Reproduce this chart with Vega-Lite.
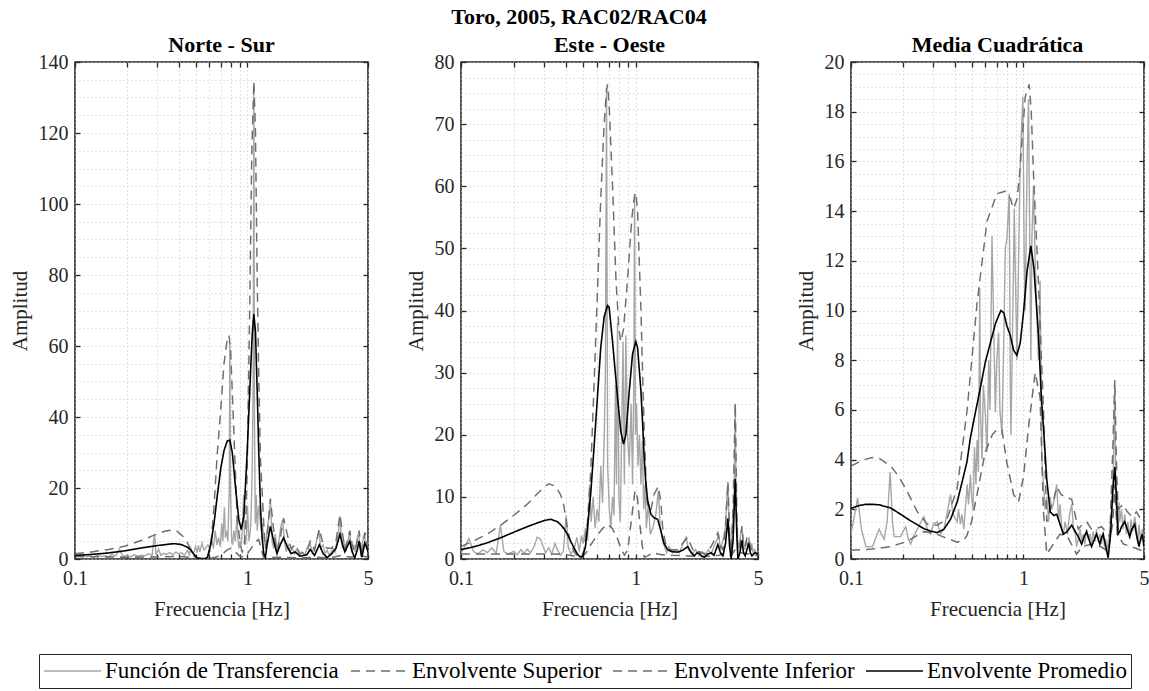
{
  "$schema": "https://vega.github.io/schema/vega-lite/v6.json",
  "padding": {"left": 8, "top": 6, "right": 6, "bottom": 3},
  "title": {"text": "Toro, 2005, RAC02/RAC04", "fontSize": 22, "fontWeight": "bold", "font": "Liberation Serif", "anchor": "middle", "offset": 4, "color": "#000000"},
  "spacing": 93,
  "bounds": "flush",
  "datasets": {
    "series": [
      {"s":"T","name":"Función de Transferencia"},{"s":"S","name":"Envolvente Superior"},{"s":"I","name":"Envolvente Inferior"},{"s":"P","name":"Envolvente Promedio"}
    ],
    "ns": [
      {"s":"T","f":0.1,"a":1.2},{"s":"T","f":0.105,"a":0.8},{"s":"T","f":0.11,"a":1.0},{"s":"T","f":0.116,"a":0.6},{"s":"T","f":0.122,"a":0.9},{"s":"T","f":0.128,"a":0.5},{"s":"T","f":0.135,"a":1.1},{"s":"T","f":0.142,"a":0.7},{"s":"T","f":0.149,"a":0.9},{"s":"T","f":0.156,"a":0.6},{"s":"T","f":0.164,"a":1.3},{"s":"T","f":0.172,"a":0.8},{"s":"T","f":0.181,"a":2.8},{"s":"T","f":0.19,"a":0.7},{"s":"T","f":0.2,"a":1.0},{"s":"T","f":0.21,"a":0.6},{"s":"T","f":0.22,"a":1.2},{"s":"T","f":0.231,"a":0.8},{"s":"T","f":0.242,"a":1.1},{"s":"T","f":0.254,"a":0.9},{"s":"T","f":0.267,"a":1.5},{"s":"T","f":0.28,"a":1.0},{"s":"T","f":0.289,"a":7.0},{"s":"T","f":0.295,"a":1.2},{"s":"T","f":0.305,"a":2.8},{"s":"T","f":0.315,"a":1.0},{"s":"T","f":0.325,"a":1.6},{"s":"T","f":0.34,"a":1.3},{"s":"T","f":0.355,"a":1.8},{"s":"T","f":0.37,"a":1.2},{"s":"T","f":0.385,"a":2.0},{"s":"T","f":0.4,"a":1.4},{"s":"T","f":0.415,"a":1.8},{"s":"T","f":0.43,"a":1.0},{"s":"T","f":0.45,"a":2.5},{"s":"T","f":0.46,"a":1.2},{"s":"T","f":0.47,"a":3.0},{"s":"T","f":0.48,"a":1.5},{"s":"T","f":0.49,"a":2.0},{"s":"T","f":0.5,"a":3.5},{"s":"T","f":0.51,"a":1.8},{"s":"T","f":0.52,"a":3.8},{"s":"T","f":0.53,"a":2.0},{"s":"T","f":0.545,"a":4.5},{"s":"T","f":0.56,"a":2.5},{"s":"T","f":0.575,"a":3.2},{"s":"T","f":0.59,"a":4.0},{"s":"T","f":0.605,"a":3.0},{"s":"T","f":0.62,"a":5.5},{"s":"T","f":0.635,"a":3.0},{"s":"T","f":0.65,"a":8.0},{"s":"T","f":0.665,"a":4.0},{"s":"T","f":0.68,"a":6.0},{"s":"T","f":0.695,"a":3.5},{"s":"T","f":0.71,"a":10},{"s":"T","f":0.72,"a":5},{"s":"T","f":0.735,"a":14.5},{"s":"T","f":0.745,"a":6},{"s":"T","f":0.755,"a":8},{"s":"T","f":0.77,"a":5},{"s":"T","f":0.785,"a":20},{"s":"T","f":0.79,"a":61},{"s":"T","f":0.797,"a":20},{"s":"T","f":0.81,"a":5},{"s":"T","f":0.82,"a":4},{"s":"T","f":0.835,"a":8},{"s":"T","f":0.85,"a":5},{"s":"T","f":0.87,"a":12},{"s":"T","f":0.88,"a":6},{"s":"T","f":0.892,"a":3},{"s":"T","f":0.905,"a":5},{"s":"T","f":0.92,"a":4},{"s":"T","f":0.935,"a":9},{"s":"T","f":0.95,"a":18},{"s":"T","f":0.96,"a":6},{"s":"T","f":0.975,"a":4},{"s":"T","f":0.99,"a":8},{"s":"T","f":1.0,"a":15},{"s":"T","f":1.02,"a":5},{"s":"T","f":1.04,"a":8},{"s":"T","f":1.05,"a":13},{"s":"T","f":1.065,"a":25},{"s":"T","f":1.08,"a":50},{"s":"T","f":1.089,"a":133},{"s":"T","f":1.098,"a":40},{"s":"T","f":1.11,"a":10},{"s":"T","f":1.125,"a":18},{"s":"T","f":1.14,"a":8},{"s":"T","f":1.16,"a":15},{"s":"T","f":1.18,"a":12},{"s":"T","f":1.2,"a":8},{"s":"T","f":1.22,"a":10},{"s":"T","f":1.25,"a":5},{"s":"T","f":1.28,"a":3},{"s":"T","f":1.3,"a":8},{"s":"T","f":1.33,"a":12},{"s":"T","f":1.36,"a":16},{"s":"T","f":1.39,"a":5},{"s":"T","f":1.42,"a":3},{"s":"T","f":1.45,"a":7},{"s":"T","f":1.48,"a":2},{"s":"T","f":1.52,"a":5},{"s":"T","f":1.56,"a":9},{"s":"T","f":1.6,"a":11},{"s":"T","f":1.64,"a":5},{"s":"T","f":1.68,"a":2},{"s":"T","f":1.72,"a":4},{"s":"T","f":1.77,"a":2},{"s":"T","f":1.82,"a":3},{"s":"T","f":1.88,"a":1.5},{"s":"T","f":1.94,"a":3},{"s":"T","f":2.0,"a":1.0},{"s":"T","f":2.07,"a":2},{"s":"T","f":2.14,"a":1},{"s":"T","f":2.22,"a":3},{"s":"T","f":2.3,"a":4.5},{"s":"T","f":2.38,"a":2},{"s":"T","f":2.46,"a":3},{"s":"T","f":2.54,"a":6},{"s":"T","f":2.6,"a":8},{"s":"T","f":2.66,"a":3},{"s":"T","f":2.74,"a":4},{"s":"T","f":2.82,"a":1.5},{"s":"T","f":2.9,"a":2.5},{"s":"T","f":2.98,"a":1},{"s":"T","f":3.06,"a":2},{"s":"T","f":3.14,"a":3},{"s":"T","f":3.22,"a":2},{"s":"T","f":3.3,"a":5},{"s":"T","f":3.38,"a":8},{"s":"T","f":3.44,"a":12},{"s":"T","f":3.5,"a":6},{"s":"T","f":3.56,"a":3},{"s":"T","f":3.62,"a":5},{"s":"T","f":3.7,"a":2},{"s":"T","f":3.78,"a":4},{"s":"T","f":3.86,"a":6},{"s":"T","f":3.92,"a":7.5},{"s":"T","f":3.98,"a":3},{"s":"T","f":4.06,"a":2},{"s":"T","f":4.14,"a":4},{"s":"T","f":4.22,"a":2},{"s":"T","f":4.3,"a":5},{"s":"T","f":4.38,"a":7},{"s":"T","f":4.44,"a":6},{"s":"T","f":4.5,"a":3},{"s":"T","f":4.56,"a":1},{"s":"T","f":4.62,"a":4},{"s":"T","f":4.7,"a":6},{"s":"T","f":4.78,"a":7},{"s":"T","f":4.86,"a":3},{"s":"T","f":4.93,"a":5},{"s":"T","f":5.0,"a":2},
      {"s":"S","f":0.1,"a":1.5},{"s":"S","f":0.125,"a":2},{"s":"S","f":0.156,"a":2.7},{"s":"S","f":0.194,"a":3.6},{"s":"S","f":0.242,"a":5.2},{"s":"S","f":0.29,"a":6.8},{"s":"S","f":0.33,"a":7.8},{"s":"S","f":0.36,"a":8.1},{"s":"S","f":0.39,"a":7.8},{"s":"S","f":0.42,"a":6.5},{"s":"S","f":0.45,"a":4.5},{"s":"S","f":0.47,"a":2.5},{"s":"S","f":0.49,"a":0.8},{"s":"S","f":0.513,"a":0},{"s":"S","f":0.537,"a":0},{"s":"S","f":0.561,"a":0},{"s":"S","f":0.586,"a":0.3},{"s":"S","f":0.612,"a":3},{"s":"S","f":0.64,"a":15},{"s":"S","f":0.669,"a":30},{"s":"S","f":0.7,"a":42},{"s":"S","f":0.731,"a":55},{"s":"S","f":0.764,"a":62},{"s":"S","f":0.782,"a":63},{"s":"S","f":0.8,"a":58},{"s":"S","f":0.835,"a":35},{"s":"S","f":0.873,"a":11},{"s":"S","f":0.91,"a":4},{"s":"S","f":0.932,"a":2},{"s":"S","f":0.953,"a":3},{"s":"S","f":0.974,"a":8},{"s":"S","f":0.996,"a":25},{"s":"S","f":1.03,"a":70},{"s":"S","f":1.06,"a":115},{"s":"S","f":1.089,"a":134.6},{"s":"S","f":1.113,"a":120},{"s":"S","f":1.138,"a":80},{"s":"S","f":1.163,"a":51},{"s":"S","f":1.19,"a":28},{"s":"S","f":1.243,"a":10},{"s":"S","f":1.27,"a":3},{"s":"S","f":1.3,"a":6},{"s":"S","f":1.358,"a":17},{"s":"S","f":1.42,"a":8},{"s":"S","f":1.483,"a":2},{"s":"S","f":1.55,"a":6},{"s":"S","f":1.62,"a":11.5},{"s":"S","f":1.7,"a":7},{"s":"S","f":1.79,"a":3},{"s":"S","f":1.89,"a":4},{"s":"S","f":2.02,"a":1.5},{"s":"S","f":2.21,"a":2},{"s":"S","f":2.31,"a":5},{"s":"S","f":2.45,"a":2.5},{"s":"S","f":2.61,"a":8.5},{"s":"S","f":2.75,"a":4},{"s":"S","f":2.9,"a":3},{"s":"S","f":3.08,"a":3},{"s":"S","f":3.26,"a":5},{"s":"S","f":3.44,"a":12.5},{"s":"S","f":3.56,"a":7},{"s":"S","f":3.67,"a":3},{"s":"S","f":3.79,"a":5},{"s":"S","f":3.92,"a":8},{"s":"S","f":4.05,"a":4},{"s":"S","f":4.19,"a":2},{"s":"S","f":4.33,"a":5},{"s":"S","f":4.44,"a":8},{"s":"S","f":4.53,"a":4},{"s":"S","f":4.6,"a":1},{"s":"S","f":4.7,"a":4},{"s":"S","f":4.79,"a":7.5},{"s":"S","f":4.9,"a":6},{"s":"S","f":5.0,"a":3},
      {"s":"I","f":0.1,"a":0.7},{"s":"I","f":0.15,"a":0.6},{"s":"I","f":0.2,"a":0.5},{"s":"I","f":0.3,"a":0.6},{"s":"I","f":0.4,"a":0.7},{"s":"I","f":0.5,"a":0.4},{"s":"I","f":0.55,"a":0.2},{"s":"I","f":0.6,"a":0.2},{"s":"I","f":0.65,"a":0.5},{"s":"I","f":0.7,"a":1},{"s":"I","f":0.76,"a":2.5},{"s":"I","f":0.8,"a":3},{"s":"I","f":0.85,"a":2},{"s":"I","f":0.9,"a":0.8},{"s":"I","f":0.95,"a":0.5},{"s":"I","f":1.0,"a":1.5},{"s":"I","f":1.05,"a":3},{"s":"I","f":1.1,"a":4.5},{"s":"I","f":1.16,"a":5.5},{"s":"I","f":1.2,"a":3},{"s":"I","f":1.24,"a":0.5},{"s":"I","f":1.3,"a":0.3},{"s":"I","f":1.5,"a":0.5},{"s":"I","f":2.0,"a":0.3},{"s":"I","f":2.5,"a":0.5},{"s":"I","f":3.0,"a":0.3},{"s":"I","f":3.5,"a":1},{"s":"I","f":4.0,"a":0.5},{"s":"I","f":4.5,"a":1},{"s":"I","f":5.0,"a":0.5},
      {"s":"P","f":0.1,"a":1.0},{"s":"P","f":0.125,"a":1.3},{"s":"P","f":0.156,"a":1.7},{"s":"P","f":0.194,"a":2.3},{"s":"P","f":0.242,"a":3.1},{"s":"P","f":0.302,"a":3.8},{"s":"P","f":0.36,"a":4.25},{"s":"P","f":0.38,"a":4.3},{"s":"P","f":0.411,"a":4.1},{"s":"P","f":0.45,"a":3.3},{"s":"P","f":0.47,"a":2.5},{"s":"P","f":0.49,"a":1.3},{"s":"P","f":0.513,"a":0.2},{"s":"P","f":0.537,"a":0},{"s":"P","f":0.561,"a":0},{"s":"P","f":0.586,"a":0.5},{"s":"P","f":0.612,"a":4},{"s":"P","f":0.64,"a":10},{"s":"P","f":0.669,"a":18},{"s":"P","f":0.7,"a":25.5},{"s":"P","f":0.731,"a":30.5},{"s":"P","f":0.764,"a":33.3},{"s":"P","f":0.79,"a":33.5},{"s":"P","f":0.817,"a":30},{"s":"P","f":0.853,"a":20},{"s":"P","f":0.892,"a":11},{"s":"P","f":0.92,"a":8.3},{"s":"P","f":0.953,"a":12},{"s":"P","f":0.996,"a":30},{"s":"P","f":1.041,"a":52},{"s":"P","f":1.065,"a":63},{"s":"P","f":1.089,"a":69},{"s":"P","f":1.113,"a":64},{"s":"P","f":1.138,"a":48},{"s":"P","f":1.163,"a":30},{"s":"P","f":1.189,"a":15},{"s":"P","f":1.216,"a":6},{"s":"P","f":1.243,"a":1.5},{"s":"P","f":1.271,"a":0.5},{"s":"P","f":1.3,"a":4},{"s":"P","f":1.358,"a":9.2},{"s":"P","f":1.42,"a":5},{"s":"P","f":1.483,"a":1.5},{"s":"P","f":1.55,"a":4},{"s":"P","f":1.62,"a":6},{"s":"P","f":1.7,"a":3.5},{"s":"P","f":1.79,"a":1.5},{"s":"P","f":1.89,"a":2},{"s":"P","f":2.02,"a":0.8},{"s":"P","f":2.21,"a":1.2},{"s":"P","f":2.31,"a":2.7},{"s":"P","f":2.45,"a":1},{"s":"P","f":2.61,"a":4},{"s":"P","f":2.75,"a":1.5},{"s":"P","f":2.9,"a":0.4},{"s":"P","f":3.08,"a":1.5},{"s":"P","f":3.26,"a":3},{"s":"P","f":3.44,"a":7},{"s":"P","f":3.56,"a":4},{"s":"P","f":3.67,"a":2},{"s":"P","f":3.79,"a":3.5},{"s":"P","f":3.92,"a":5},{"s":"P","f":4.05,"a":2},{"s":"P","f":4.19,"a":0.3},{"s":"P","f":4.33,"a":2.5},{"s":"P","f":4.44,"a":5},{"s":"P","f":4.53,"a":2.5},{"s":"P","f":4.6,"a":0.5},{"s":"P","f":4.7,"a":2.5},{"s":"P","f":4.79,"a":4.5},{"s":"P","f":4.9,"a":3.5},{"s":"P","f":5.0,"a":2}
    ],
    "eo": [
      {"s":"T","f":0.1,"a":1.0},{"s":"T","f":0.105,"a":2.0},{"s":"T","f":0.111,"a":3.3},{"s":"T","f":0.118,"a":1.2},{"s":"T","f":0.125,"a":0.8},{"s":"T","f":0.133,"a":1.5},{"s":"T","f":0.141,"a":1.0},{"s":"T","f":0.15,"a":1.8},{"s":"T","f":0.159,"a":0.9},{"s":"T","f":0.168,"a":5.4},{"s":"T","f":0.176,"a":1.2},{"s":"T","f":0.185,"a":0.8},{"s":"T","f":0.2,"a":1.2},{"s":"T","f":0.21,"a":0.7},{"s":"T","f":0.22,"a":1.5},{"s":"T","f":0.23,"a":0.9},{"s":"T","f":0.239,"a":1.6},{"s":"T","f":0.25,"a":1.0},{"s":"T","f":0.262,"a":2.0},{"s":"T","f":0.273,"a":3.5},{"s":"T","f":0.285,"a":3.2},{"s":"T","f":0.295,"a":2.0},{"s":"T","f":0.305,"a":1.0},{"s":"T","f":0.318,"a":1.8},{"s":"T","f":0.33,"a":0.8},{"s":"T","f":0.345,"a":2.5},{"s":"T","f":0.356,"a":1.5},{"s":"T","f":0.37,"a":0.6},{"s":"T","f":0.385,"a":1.2},{"s":"T","f":0.4,"a":7.0},{"s":"T","f":0.41,"a":2},{"s":"T","f":0.425,"a":0.8},{"s":"T","f":0.443,"a":1.5},{"s":"T","f":0.46,"a":3.5},{"s":"T","f":0.475,"a":1.2},{"s":"T","f":0.489,"a":3.8},{"s":"T","f":0.5,"a":2.5},{"s":"T","f":0.515,"a":5},{"s":"T","f":0.53,"a":3},{"s":"T","f":0.545,"a":12},{"s":"T","f":0.555,"a":6},{"s":"T","f":0.57,"a":10},{"s":"T","f":0.585,"a":5},{"s":"T","f":0.6,"a":8},{"s":"T","f":0.615,"a":6},{"s":"T","f":0.63,"a":15},{"s":"T","f":0.645,"a":9},{"s":"T","f":0.66,"a":20},{"s":"T","f":0.67,"a":30},{"s":"T","f":0.68,"a":75.8},{"s":"T","f":0.69,"a":15},{"s":"T","f":0.705,"a":8},{"s":"T","f":0.72,"a":5},{"s":"T","f":0.736,"a":10},{"s":"T","f":0.75,"a":7},{"s":"T","f":0.765,"a":28},{"s":"T","f":0.775,"a":12},{"s":"T","f":0.786,"a":38},{"s":"T","f":0.8,"a":10},{"s":"T","f":0.815,"a":6},{"s":"T","f":0.83,"a":20},{"s":"T","f":0.845,"a":35},{"s":"T","f":0.86,"a":12},{"s":"T","f":0.877,"a":36},{"s":"T","f":0.897,"a":20},{"s":"T","f":0.917,"a":15},{"s":"T","f":0.94,"a":25},{"s":"T","f":0.958,"a":12},{"s":"T","f":0.975,"a":30},{"s":"T","f":0.984,"a":58.7},{"s":"T","f":0.995,"a":20},{"s":"T","f":1.01,"a":25},{"s":"T","f":1.03,"a":15},{"s":"T","f":1.05,"a":20},{"s":"T","f":1.07,"a":12},{"s":"T","f":1.09,"a":19},{"s":"T","f":1.11,"a":8},{"s":"T","f":1.13,"a":12},{"s":"T","f":1.15,"a":5},{"s":"T","f":1.18,"a":9},{"s":"T","f":1.21,"a":4},{"s":"T","f":1.25,"a":5},{"s":"T","f":1.3,"a":7},{"s":"T","f":1.345,"a":11},{"s":"T","f":1.38,"a":5},{"s":"T","f":1.42,"a":3},{"s":"T","f":1.46,"a":2},{"s":"T","f":1.5,"a":1},{"s":"T","f":1.55,"a":2},{"s":"T","f":1.62,"a":1},{"s":"T","f":1.7,"a":1.5},{"s":"T","f":1.78,"a":1},{"s":"T","f":1.86,"a":2.5},{"s":"T","f":1.94,"a":3.5},{"s":"T","f":2.0,"a":1.5},{"s":"T","f":2.1,"a":0.8},{"s":"T","f":2.2,"a":1.5},{"s":"T","f":2.3,"a":0.5},{"s":"T","f":2.4,"a":1.2},{"s":"T","f":2.5,"a":0.6},{"s":"T","f":2.6,"a":1.5},{"s":"T","f":2.7,"a":0.8},{"s":"T","f":2.8,"a":2},{"s":"T","f":2.9,"a":3},{"s":"T","f":2.98,"a":4},{"s":"T","f":3.05,"a":1.5},{"s":"T","f":3.15,"a":3},{"s":"T","f":3.25,"a":5},{"s":"T","f":3.32,"a":10},{"s":"T","f":3.37,"a":12},{"s":"T","f":3.42,"a":4},{"s":"T","f":3.5,"a":2},{"s":"T","f":3.58,"a":6},{"s":"T","f":3.65,"a":10},{"s":"T","f":3.705,"a":25},{"s":"T","f":3.75,"a":8},{"s":"T","f":3.82,"a":3},{"s":"T","f":3.9,"a":2},{"s":"T","f":3.98,"a":4},{"s":"T","f":4.05,"a":5},{"s":"T","f":4.12,"a":3},{"s":"T","f":4.2,"a":1.5},{"s":"T","f":4.28,"a":3},{"s":"T","f":4.36,"a":2},{"s":"T","f":4.44,"a":3.5},{"s":"T","f":4.52,"a":1.5},{"s":"T","f":4.6,"a":2.5},{"s":"T","f":4.7,"a":1},{"s":"T","f":4.8,"a":1.5},{"s":"T","f":4.9,"a":0.8},{"s":"T","f":5.0,"a":1.2},
      {"s":"S","f":0.1,"a":2.0},{"s":"S","f":0.12,"a":3.0},{"s":"S","f":0.141,"a":4.0},{"s":"S","f":0.168,"a":5.4},{"s":"S","f":0.2,"a":7.0},{"s":"S","f":0.239,"a":8.8},{"s":"S","f":0.273,"a":10.5},{"s":"S","f":0.3,"a":11.6},{"s":"S","f":0.318,"a":12.1},{"s":"S","f":0.34,"a":11.8},{"s":"S","f":0.356,"a":11.2},{"s":"S","f":0.372,"a":10.3},{"s":"S","f":0.388,"a":8.5},{"s":"S","f":0.406,"a":5.0},{"s":"S","f":0.425,"a":2.5},{"s":"S","f":0.443,"a":1.2},{"s":"S","f":0.463,"a":0.5},{"s":"S","f":0.489,"a":0.3},{"s":"S","f":0.506,"a":1.5},{"s":"S","f":0.529,"a":6},{"s":"S","f":0.552,"a":14},{"s":"S","f":0.577,"a":28},{"s":"S","f":0.603,"a":43},{"s":"S","f":0.63,"a":58},{"s":"S","f":0.659,"a":70},{"s":"S","f":0.68,"a":75.5},{"s":"S","f":0.689,"a":76.4},{"s":"S","f":0.704,"a":73},{"s":"S","f":0.736,"a":60},{"s":"S","f":0.77,"a":45},{"s":"S","f":0.8,"a":37},{"s":"S","f":0.821,"a":35},{"s":"S","f":0.851,"a":37},{"s":"S","f":0.897,"a":45},{"s":"S","f":0.95,"a":55},{"s":"S","f":0.984,"a":58.5},{"s":"S","f":1.0,"a":59},{"s":"S","f":1.024,"a":56},{"s":"S","f":1.07,"a":40},{"s":"S","f":1.093,"a":30},{"s":"S","f":1.118,"a":20},{"s":"S","f":1.143,"a":13},{"s":"S","f":1.168,"a":8},{"s":"S","f":1.221,"a":8},{"s":"S","f":1.276,"a":10.5},{"s":"S","f":1.345,"a":11.7},{"s":"S","f":1.393,"a":9},{"s":"S","f":1.424,"a":5},{"s":"S","f":1.48,"a":2.5},{"s":"S","f":1.555,"a":1.5},{"s":"S","f":1.736,"a":1.5},{"s":"S","f":1.85,"a":2.5},{"s":"S","f":1.982,"a":3.5},{"s":"S","f":2.08,"a":2},{"s":"S","f":2.163,"a":1},{"s":"S","f":2.3,"a":1.2},{"s":"S","f":2.47,"a":0.8},{"s":"S","f":2.698,"a":2},{"s":"S","f":2.946,"a":4.2},{"s":"S","f":3.05,"a":2},{"s":"S","f":3.148,"a":1.5},{"s":"S","f":3.26,"a":5},{"s":"S","f":3.363,"a":12.5},{"s":"S","f":3.44,"a":4},{"s":"S","f":3.513,"a":1},{"s":"S","f":3.6,"a":8},{"s":"S","f":3.705,"a":25.1},{"s":"S","f":3.78,"a":8},{"s":"S","f":3.837,"a":1},{"s":"S","f":3.94,"a":2},{"s":"S","f":4.046,"a":5.3},{"s":"S","f":4.13,"a":2},{"s":"S","f":4.227,"a":2},{"s":"S","f":4.32,"a":3.5},{"s":"S","f":4.417,"a":3.5},{"s":"S","f":4.52,"a":2},{"s":"S","f":4.615,"a":1.5},{"s":"S","f":4.8,"a":1.5},{"s":"S","f":5.0,"a":1},
      {"s":"I","f":0.1,"a":0.8},{"s":"I","f":0.15,"a":0.8},{"s":"I","f":0.2,"a":0.8},{"s":"I","f":0.25,"a":0.8},{"s":"I","f":0.3,"a":0.8},{"s":"I","f":0.35,"a":0.8},{"s":"I","f":0.4,"a":0.7},{"s":"I","f":0.443,"a":0.5},{"s":"I","f":0.489,"a":0.3},{"s":"I","f":0.52,"a":1},{"s":"I","f":0.55,"a":2.2},{"s":"I","f":0.6,"a":3.8},{"s":"I","f":0.65,"a":5},{"s":"I","f":0.69,"a":5.6},{"s":"I","f":0.73,"a":5},{"s":"I","f":0.78,"a":3.5},{"s":"I","f":0.82,"a":1.8},{"s":"I","f":0.86,"a":0.6},{"s":"I","f":0.9,"a":1.5},{"s":"I","f":0.95,"a":7},{"s":"I","f":0.99,"a":11},{"s":"I","f":1.02,"a":10},{"s":"I","f":1.06,"a":5},{"s":"I","f":1.09,"a":2},{"s":"I","f":1.12,"a":0.3},{"s":"I","f":1.17,"a":0.5},{"s":"I","f":1.25,"a":1},{"s":"I","f":1.4,"a":0.7},{"s":"I","f":1.6,"a":0.6},{"s":"I","f":2.0,"a":0.5},{"s":"I","f":2.5,"a":0.4},{"s":"I","f":3.0,"a":0.6},{"s":"I","f":3.3,"a":1},{"s":"I","f":3.5,"a":0.5},{"s":"I","f":3.7,"a":1.5},{"s":"I","f":4.0,"a":1},{"s":"I","f":4.5,"a":0.8},{"s":"I","f":5.0,"a":0.5},
      {"s":"P","f":0.1,"a":1.5},{"s":"P","f":0.12,"a":2.0},{"s":"P","f":0.141,"a":2.6},{"s":"P","f":0.168,"a":3.4},{"s":"P","f":0.2,"a":4.3},{"s":"P","f":0.239,"a":5.2},{"s":"P","f":0.273,"a":5.8},{"s":"P","f":0.3,"a":6.2},{"s":"P","f":0.326,"a":6.4},{"s":"P","f":0.356,"a":6.0},{"s":"P","f":0.372,"a":5.5},{"s":"P","f":0.388,"a":4.9},{"s":"P","f":0.406,"a":4.0},{"s":"P","f":0.425,"a":2.8},{"s":"P","f":0.443,"a":1.8},{"s":"P","f":0.463,"a":0.8},{"s":"P","f":0.48,"a":0.35},{"s":"P","f":0.489,"a":0.3},{"s":"P","f":0.5,"a":0.6},{"s":"P","f":0.515,"a":2},{"s":"P","f":0.529,"a":5},{"s":"P","f":0.552,"a":10.5},{"s":"P","f":0.577,"a":18},{"s":"P","f":0.603,"a":26},{"s":"P","f":0.63,"a":34},{"s":"P","f":0.659,"a":39},{"s":"P","f":0.689,"a":40.8},{"s":"P","f":0.704,"a":40.5},{"s":"P","f":0.736,"a":35},{"s":"P","f":0.786,"a":26},{"s":"P","f":0.821,"a":20.5},{"s":"P","f":0.851,"a":18.5},{"s":"P","f":0.877,"a":20},{"s":"P","f":0.917,"a":27},{"s":"P","f":0.958,"a":33},{"s":"P","f":1.0,"a":35},{"s":"P","f":1.024,"a":34},{"s":"P","f":1.07,"a":27},{"s":"P","f":1.093,"a":22},{"s":"P","f":1.118,"a":16},{"s":"P","f":1.143,"a":12},{"s":"P","f":1.168,"a":9.5},{"s":"P","f":1.221,"a":7.2},{"s":"P","f":1.276,"a":6.6},{"s":"P","f":1.333,"a":6.4},{"s":"P","f":1.393,"a":4.5},{"s":"P","f":1.45,"a":2.5},{"s":"P","f":1.521,"a":1.5},{"s":"P","f":1.6,"a":1.2},{"s":"P","f":1.736,"a":1.1},{"s":"P","f":1.85,"a":1.4},{"s":"P","f":1.982,"a":2.0},{"s":"P","f":2.08,"a":1.0},{"s":"P","f":2.163,"a":0.5},{"s":"P","f":2.24,"a":1.0},{"s":"P","f":2.311,"a":0.9},{"s":"P","f":2.39,"a":0.4},{"s":"P","f":2.471,"a":0.3},{"s":"P","f":2.58,"a":0.8},{"s":"P","f":2.698,"a":1.0},{"s":"P","f":2.8,"a":0.6},{"s":"P","f":2.946,"a":2.3},{"s":"P","f":3.05,"a":1.0},{"s":"P","f":3.148,"a":0.5},{"s":"P","f":3.26,"a":2.5},{"s":"P","f":3.363,"a":6.5},{"s":"P","f":3.44,"a":2},{"s":"P","f":3.513,"a":0},{"s":"P","f":3.6,"a":3},{"s":"P","f":3.705,"a":12.9},{"s":"P","f":3.78,"a":4},{"s":"P","f":3.837,"a":0},{"s":"P","f":3.94,"a":1},{"s":"P","f":4.046,"a":3},{"s":"P","f":4.13,"a":1},{"s":"P","f":4.227,"a":0.5},{"s":"P","f":4.32,"a":1.5},{"s":"P","f":4.417,"a":2.5},{"s":"P","f":4.52,"a":1},{"s":"P","f":4.615,"a":0.5},{"s":"P","f":4.8,"a":1},{"s":"P","f":5.0,"a":0.8}
    ],
    "mc": [
      {"s":"T","f":0.1,"a":1.0},{"s":"T","f":0.105,"a":1.8},{"s":"T","f":0.1093,"a":2.45},{"s":"T","f":0.115,"a":1.2},{"s":"T","f":0.122,"a":0.5},{"s":"T","f":0.128,"a":0.5},{"s":"T","f":0.1334,"a":0.5},{"s":"T","f":0.14,"a":0.9},{"s":"T","f":0.1457,"a":1.2},{"s":"T","f":0.15,"a":1.0},{"s":"T","f":0.1557,"a":0.8},{"s":"T","f":0.162,"a":1.5},{"s":"T","f":0.1687,"a":3.5},{"s":"T","f":0.174,"a":1.5},{"s":"T","f":0.178,"a":0.9},{"s":"T","f":0.186,"a":0.9},{"s":"T","f":0.1943,"a":0.9},{"s":"T","f":0.2,"a":1.1},{"s":"T","f":0.2077,"a":1.3},{"s":"T","f":0.215,"a":0.8},{"s":"T","f":0.2219,"a":0.6},{"s":"T","f":0.23,"a":0.9},{"s":"T","f":0.2425,"a":1.2},{"s":"T","f":0.255,"a":1.5},{"s":"T","f":0.265,"a":1.7},{"s":"T","f":0.277,"a":1.2},{"s":"T","f":0.2895,"a":1.0},{"s":"T","f":0.3,"a":1.4},{"s":"T","f":0.3164,"a":1.5},{"s":"T","f":0.33,"a":1.0},{"s":"T","f":0.3457,"a":1.2},{"s":"T","f":0.36,"a":1.8},{"s":"T","f":0.3777,"a":2.6},{"s":"T","f":0.39,"a":1.8},{"s":"T","f":0.4127,"a":1.5},{"s":"T","f":0.42,"a":2.0},{"s":"T","f":0.4315,"a":1.4},{"s":"T","f":0.44,"a":1.8},{"s":"T","f":0.451,"a":1.2},{"s":"T","f":0.46,"a":2.0},{"s":"T","f":0.4715,"a":3.0},{"s":"T","f":0.48,"a":2.2},{"s":"T","f":0.4928,"a":3.4},{"s":"T","f":0.5,"a":2.5},{"s":"T","f":0.51,"a":2.0},{"s":"T","f":0.52,"a":4.5},{"s":"T","f":0.53,"a":3},{"s":"T","f":0.5384,"a":4.8},{"s":"T","f":0.548,"a":3.5},{"s":"T","f":0.558,"a":10.9},{"s":"T","f":0.5628,"a":6},{"s":"T","f":0.5754,"a":4},{"s":"T","f":0.585,"a":7},{"s":"T","f":0.6015,"a":5.8},{"s":"T","f":0.615,"a":4.3},{"s":"T","f":0.629,"a":8},{"s":"T","f":0.64,"a":6},{"s":"T","f":0.657,"a":13.0},{"s":"T","f":0.6869,"a":5.9},{"s":"T","f":0.7,"a":8},{"s":"T","f":0.7181,"a":9.1},{"s":"T","f":0.73,"a":6},{"s":"T","f":0.7505,"a":5},{"s":"T","f":0.77,"a":9},{"s":"T","f":0.7846,"a":12.5},{"s":"T","f":0.8022,"a":12.9},{"s":"T","f":0.8275,"a":14.7},{"s":"T","f":0.8386,"a":7},{"s":"T","f":0.8461,"a":5},{"s":"T","f":0.8766,"a":12},{"s":"T","f":0.8843,"a":14.1},{"s":"T","f":0.9163,"a":8},{"s":"T","f":0.9367,"a":12},{"s":"T","f":0.9577,"a":16},{"s":"T","f":0.9922,"a":18.6},{"s":"T","f":1.01,"a":12},{"s":"T","f":1.0235,"a":10},{"s":"T","f":1.05,"a":16},{"s":"T","f":1.07,"a":18.5},{"s":"T","f":1.09,"a":12},{"s":"T","f":1.104,"a":8},{"s":"T","f":1.12,"a":13},{"s":"T","f":1.1435,"a":15},{"s":"T","f":1.169,"a":12},{"s":"T","f":1.195,"a":10},{"s":"T","f":1.222,"a":8},{"s":"T","f":1.249,"a":11.2},{"s":"T","f":1.277,"a":4},{"s":"T","f":1.306,"a":3},{"s":"T","f":1.335,"a":2},{"s":"T","f":1.365,"a":2.5},{"s":"T","f":1.4,"a":1.5},{"s":"T","f":1.427,"a":2.5},{"s":"T","f":1.459,"a":2.0},{"s":"T","f":1.5,"a":2.3},{"s":"T","f":1.559,"a":3.0},{"s":"T","f":1.6,"a":1.5},{"s":"T","f":1.63,"a":2.2},{"s":"T","f":1.67,"a":1.2},{"s":"T","f":1.704,"a":1.0},{"s":"T","f":1.742,"a":1.5},{"s":"T","f":1.8,"a":1.0},{"s":"T","f":1.85,"a":1.8},{"s":"T","f":1.904,"a":2.2},{"s":"T","f":1.95,"a":1.2},{"s":"T","f":2.0,"a":1.0},{"s":"T","f":2.034,"a":0.5},{"s":"T","f":2.079,"a":0.8},{"s":"T","f":2.13,"a":1.2},{"s":"T","f":2.174,"a":0.7},{"s":"T","f":2.22,"a":1.0},{"s":"T","f":2.27,"a":0.6},{"s":"T","f":2.323,"a":1.2},{"s":"T","f":2.38,"a":0.8},{"s":"T","f":2.43,"a":1.0},{"s":"T","f":2.483,"a":0.6},{"s":"T","f":2.538,"a":1.1},{"s":"T","f":2.6,"a":0.7},{"s":"T","f":2.653,"a":1.2},{"s":"T","f":2.71,"a":0.7},{"s":"T","f":2.773,"a":1.0},{"s":"T","f":2.835,"a":0.6},{"s":"T","f":2.899,"a":1.1},{"s":"T","f":2.95,"a":0.5},{"s":"T","f":3.0,"a":0.8},{"s":"T","f":3.05,"a":0.3},{"s":"T","f":3.098,"a":0.6},{"s":"T","f":3.168,"a":1.2},{"s":"T","f":3.25,"a":2},{"s":"T","f":3.32,"a":3.5},{"s":"T","f":3.385,"a":6.8},{"s":"T","f":3.43,"a":3.0},{"s":"T","f":3.47,"a":1.5},{"s":"T","f":3.538,"a":1.2},{"s":"T","f":3.58,"a":2.3},{"s":"T","f":3.617,"a":1.5},{"s":"T","f":3.7,"a":2.0},{"s":"T","f":3.781,"a":1.2},{"s":"T","f":3.866,"a":1.8},{"s":"T","f":3.95,"a":1.0},{"s":"T","f":4.03,"a":1.5},{"s":"T","f":4.132,"a":0.8},{"s":"T","f":4.2,"a":1.6},{"s":"T","f":4.3,"a":1.1},{"s":"T","f":4.416,"a":1.7},{"s":"T","f":4.515,"a":1.2},{"s":"T","f":4.6,"a":0.6},{"s":"T","f":4.677,"a":1.4},{"s":"T","f":4.78,"a":0.7},{"s":"T","f":4.89,"a":1.2},{"s":"T","f":5.0,"a":0.5},
      {"s":"S","f":0.1,"a":3.74},{"s":"S","f":0.111,"a":3.9},{"s":"S","f":0.122,"a":4.02},{"s":"S","f":0.1334,"a":4.08},{"s":"S","f":0.146,"a":4.05},{"s":"S","f":0.1702,"a":3.74},{"s":"S","f":0.19,"a":3.3},{"s":"S","f":0.2123,"a":2.7},{"s":"S","f":0.2425,"a":1.9},{"s":"S","f":0.277,"a":1.4},{"s":"S","f":0.3164,"a":1.36},{"s":"S","f":0.3614,"a":1.63},{"s":"S","f":0.4127,"a":2.85},{"s":"S","f":0.4715,"a":6.0},{"s":"S","f":0.5384,"a":10.3},{"s":"S","f":0.615,"a":13.6},{"s":"S","f":0.7023,"a":14.7},{"s":"S","f":0.7846,"a":14.8},{"s":"S","f":0.84,"a":14.5},{"s":"S","f":0.8766,"a":14.1},{"s":"S","f":0.92,"a":14.5},{"s":"S","f":0.9577,"a":15.8},{"s":"S","f":1.0235,"a":18.6},{"s":"S","f":1.079,"a":19.1},{"s":"S","f":1.11,"a":18},{"s":"S","f":1.1435,"a":15.5},{"s":"S","f":1.222,"a":11.1},{"s":"S","f":1.306,"a":6.0},{"s":"S","f":1.365,"a":1.5},{"s":"S","f":1.427,"a":2.0},{"s":"S","f":1.5,"a":2.4},{"s":"S","f":1.559,"a":2.9},{"s":"S","f":1.65,"a":2.6},{"s":"S","f":1.742,"a":2.5},{"s":"S","f":1.904,"a":2.4},{"s":"S","f":2.034,"a":1.5},{"s":"S","f":2.079,"a":1.2},{"s":"S","f":2.2,"a":1.4},{"s":"S","f":2.323,"a":1.5},{"s":"S","f":2.483,"a":1.2},{"s":"S","f":2.6,"a":1.2},{"s":"S","f":2.835,"a":1.3},{"s":"S","f":3.0,"a":1.1},{"s":"S","f":3.168,"a":0.9},{"s":"S","f":3.3,"a":4.5},{"s":"S","f":3.385,"a":7.2},{"s":"S","f":3.47,"a":3.5},{"s":"S","f":3.538,"a":2.0},{"s":"S","f":3.781,"a":2.2},{"s":"S","f":4.0,"a":1.9},{"s":"S","f":4.132,"a":1.8},{"s":"S","f":4.3,"a":1.7},{"s":"S","f":4.515,"a":1.9},{"s":"S","f":4.7,"a":1.7},{"s":"S","f":5.0,"a":1.5},
      {"s":"I","f":0.1,"a":0.35},{"s":"I","f":0.133,"a":0.4},{"s":"I","f":0.17,"a":0.5},{"s":"I","f":0.21,"a":0.7},{"s":"I","f":0.265,"a":1.1},{"s":"I","f":0.3,"a":1.05},{"s":"I","f":0.346,"a":0.88},{"s":"I","f":0.413,"a":0.68},{"s":"I","f":0.45,"a":0.75},{"s":"I","f":0.47,"a":0.95},{"s":"I","f":0.5,"a":1.5},{"s":"I","f":0.538,"a":2.6},{"s":"I","f":0.6,"a":4.3},{"s":"I","f":0.66,"a":5.0},{"s":"I","f":0.7,"a":5.2},{"s":"I","f":0.75,"a":5.2},{"s":"I","f":0.8,"a":3.9},{"s":"I","f":0.8766,"a":2.6},{"s":"I","f":0.9367,"a":2.3},{"s":"I","f":1.0,"a":3.3},{"s":"I","f":1.07,"a":5.3},{"s":"I","f":1.169,"a":7.5},{"s":"I","f":1.249,"a":6.5},{"s":"I","f":1.306,"a":1.9},{"s":"I","f":1.365,"a":0.2},{"s":"I","f":1.459,"a":0.5},{"s":"I","f":1.63,"a":1.0},{"s":"I","f":1.8,"a":0.9},{"s":"I","f":2.034,"a":0.2},{"s":"I","f":2.2,"a":0.5},{"s":"I","f":2.5,"a":0.6},{"s":"I","f":2.8,"a":0.5},{"s":"I","f":3.1,"a":0.3},{"s":"I","f":3.3,"a":1.5},{"s":"I","f":3.385,"a":3},{"s":"I","f":3.5,"a":1},{"s":"I","f":3.8,"a":0.6},{"s":"I","f":4.2,"a":0.5},{"s":"I","f":4.6,"a":0.4},{"s":"I","f":5.0,"a":0.3},
      {"s":"P","f":0.1,"a":2.04},{"s":"P","f":0.111,"a":2.15},{"s":"P","f":0.122,"a":2.2},{"s":"P","f":0.1334,"a":2.2},{"s":"P","f":0.146,"a":2.18},{"s":"P","f":0.17,"a":2.05},{"s":"P","f":0.194,"a":1.8},{"s":"P","f":0.22,"a":1.55},{"s":"P","f":0.265,"a":1.22},{"s":"P","f":0.29,"a":1.12},{"s":"P","f":0.316,"a":1.06},{"s":"P","f":0.346,"a":1.2},{"s":"P","f":0.378,"a":1.6},{"s":"P","f":0.413,"a":2.3},{"s":"P","f":0.432,"a":2.85},{"s":"P","f":0.47,"a":3.9},{"s":"P","f":0.493,"a":4.9},{"s":"P","f":0.53,"a":6.0},{"s":"P","f":0.563,"a":6.9},{"s":"P","f":0.6,"a":7.9},{"s":"P","f":0.643,"a":8.7},{"s":"P","f":0.69,"a":9.5},{"s":"P","f":0.74,"a":10.0},{"s":"P","f":0.77,"a":9.9},{"s":"P","f":0.8,"a":9.4},{"s":"P","f":0.838,"a":9.0},{"s":"P","f":0.877,"a":8.4},{"s":"P","f":0.916,"a":8.2},{"s":"P","f":0.958,"a":8.7},{"s":"P","f":1.0,"a":9.9},{"s":"P","f":1.05,"a":11.6},{"s":"P","f":1.104,"a":12.6},{"s":"P","f":1.15,"a":11.7},{"s":"P","f":1.195,"a":10},{"s":"P","f":1.222,"a":9},{"s":"P","f":1.27,"a":6.5},{"s":"P","f":1.306,"a":5.3},{"s":"P","f":1.365,"a":3.2},{"s":"P","f":1.43,"a":1.9},{"s":"P","f":1.5,"a":1.75},{"s":"P","f":1.559,"a":1.8},{"s":"P","f":1.63,"a":1.4},{"s":"P","f":1.704,"a":1.0},{"s":"P","f":1.79,"a":1.1},{"s":"P","f":1.904,"a":1.36},{"s":"P","f":2.0,"a":1.1},{"s":"P","f":2.079,"a":0.9},{"s":"P","f":2.174,"a":0.6},{"s":"P","f":2.25,"a":0.9},{"s":"P","f":2.323,"a":1.1},{"s":"P","f":2.42,"a":0.7},{"s":"P","f":2.483,"a":0.5},{"s":"P","f":2.58,"a":0.8},{"s":"P","f":2.653,"a":1.0},{"s":"P","f":2.773,"a":0.6},{"s":"P","f":2.85,"a":0.9},{"s":"P","f":2.899,"a":1.0},{"s":"P","f":3.0,"a":0.5},{"s":"P","f":3.098,"a":0.05},{"s":"P","f":3.2,"a":1.0},{"s":"P","f":3.3,"a":2.8},{"s":"P","f":3.385,"a":3.7},{"s":"P","f":3.46,"a":2.5},{"s":"P","f":3.538,"a":1.0},{"s":"P","f":3.617,"a":1.1},{"s":"P","f":3.7,"a":1.3},{"s":"P","f":3.866,"a":1.5},{"s":"P","f":4.0,"a":1.2},{"s":"P","f":4.132,"a":0.9},{"s":"P","f":4.25,"a":1.2},{"s":"P","f":4.416,"a":1.4},{"s":"P","f":4.515,"a":1.0},{"s":"P","f":4.677,"a":0.5},{"s":"P","f":4.78,"a":0.8},{"s":"P","f":4.89,"a":1.0},{"s":"P","f":5.0,"a":0.5}
    ]
  },
  "hconcat": [
    {
      "width": 293, "height": 497,
      "title": {"text": "Norte - Sur"},
      "data": {"name": "ns"},
      "transform": [{"lookup": "s", "from": {"data": {"name": "series"}, "key": "s", "fields": ["name"]}}],
      "layer": [
        {
          "mark": {"type": "line", "clip": true},
          "encoding": {
            "x": {"field": "f", "type": "quantitative", "scale": {"type": "log", "domain": [0.1, 5], "nice": false},
                  "axis": {"title": "Frecuencia [Hz]", "values": [0.1,0.2,0.3,0.4,0.5,0.6,0.7,0.8,0.9,1,5], "labelExpr": "datum.value == 0.1 ? '0.1' : (datum.value == 1 ? '1' : (datum.value == 5 ? '5' : ''))"}},
            "y": {"field": "a", "type": "quantitative", "scale": {"domain": [0, 140], "nice": false},
                  "axis": {"title": "Amplitud", "values": [0,5,10,15,20,25,30,35,40,45,50,55,60,65,70,75,80,85,90,95,100,105,110,115,120,125,130,135,140], "labelExpr": "datum.value % 20 == 0 ? format(datum.value, 'd') : ''", "tickOpacity": {"condition": {"test": "datum.value % 20 == 0", "value": 1}, "value": 0}}},
            "color": {"field": "name", "type": "nominal", "title": null, "scale": {"domain": ["Función de Transferencia","Envolvente Superior","Envolvente Inferior","Envolvente Promedio"], "range": ["#a6a6a6","#6e6e6e","#6e6e6e","#000000"]},
                      "legend": {"orient": "none", "legendX": -36, "legendY": 592, "direction": "horizontal", "labelFont": {"expr": "'Liberation Serif'"}, "labelFontSize": 23}},
            "strokeDash": {"field": "name", "type": "nominal", "title": null, "scale": {"domain": ["Función de Transferencia","Envolvente Superior","Envolvente Inferior","Envolvente Promedio"], "range": [[1,0],[9,6],[9,6],[1,0]]},
                      "legend": {"orient": "none", "legendX": -36, "legendY": 592, "direction": "horizontal", "labelFont": {"expr": "'Liberation Serif'"}, "labelFontSize": 23}},
            "strokeWidth": {"field": "name", "type": "nominal", "title": null, "scale": {"domain": ["Función de Transferencia","Envolvente Superior","Envolvente Inferior","Envolvente Promedio"], "range": [1.4,1.6,1.6,2.6]},
                      "legend": {"orient": "none", "legendX": -36, "legendY": 592, "direction": "horizontal", "labelFont": {"expr": "'Liberation Serif'"}, "labelFontSize": 23}}
          }
        },
        {
          "mark": {"type": "point", "opacity": 0},
          "encoding": {
            "x": {"field": "f", "type": "quantitative", "scale": {"type": "log", "domain": [0.1, 5], "nice": false},
                  "axis": {"orient": "top", "title": null, "labels": false, "grid": false, "values": [0.1,0.2,0.3,0.4,0.5,0.6,0.7,0.8,0.9,1,5]}},
            "y": {"field": "a", "type": "quantitative", "scale": {"domain": [0, 140], "nice": false},
                  "axis": {"orient": "right", "title": null, "labels": false, "grid": false, "values": [0,20,40,60,80,100,120,140]}}
          }
        }
      ],
      "resolve": {"axis": {"x": "independent", "y": "independent"}}
    },
    {
      "width": 297, "height": 497,
      "title": {"text": "Este - Oeste"},
      "data": {"name": "eo"},
      "transform": [{"lookup": "s", "from": {"data": {"name": "series"}, "key": "s", "fields": ["name"]}}],
      "layer": [
        {
          "mark": {"type": "line", "clip": true},
          "encoding": {
            "x": {"field": "f", "type": "quantitative", "scale": {"type": "log", "domain": [0.1, 5], "nice": false},
                  "axis": {"title": "Frecuencia [Hz]", "values": [0.1,0.2,0.3,0.4,0.5,0.6,0.7,0.8,0.9,1,5], "labelExpr": "datum.value == 0.1 ? '0.1' : (datum.value == 1 ? '1' : (datum.value == 5 ? '5' : ''))"}},
            "y": {"field": "a", "type": "quantitative", "scale": {"domain": [0, 80], "nice": false},
                  "axis": {"title": "Amplitud", "values": [0,2.5,5,7.5,10,12.5,15,17.5,20,22.5,25,27.5,30,32.5,35,37.5,40,42.5,45,47.5,50,52.5,55,57.5,60,62.5,65,67.5,70,72.5,75,77.5,80], "labelExpr": "datum.value % 10 == 0 ? format(datum.value, 'd') : ''", "tickOpacity": {"condition": {"test": "datum.value % 10 == 0", "value": 1}, "value": 0}}},
            "color": {"field": "name", "type": "nominal", "title": null, "scale": {"domain": ["Función de Transferencia","Envolvente Superior","Envolvente Inferior","Envolvente Promedio"], "range": ["#a6a6a6","#6e6e6e","#6e6e6e","#000000"]},
                      "legend": {"orient": "none", "legendX": -36, "legendY": 592, "direction": "horizontal", "labelFont": {"expr": "'Liberation Serif'"}, "labelFontSize": 23}},
            "strokeDash": {"field": "name", "type": "nominal", "title": null, "scale": {"domain": ["Función de Transferencia","Envolvente Superior","Envolvente Inferior","Envolvente Promedio"], "range": [[1,0],[9,6],[9,6],[1,0]]},
                      "legend": {"orient": "none", "legendX": -36, "legendY": 592, "direction": "horizontal", "labelFont": {"expr": "'Liberation Serif'"}, "labelFontSize": 23}},
            "strokeWidth": {"field": "name", "type": "nominal", "title": null, "scale": {"domain": ["Función de Transferencia","Envolvente Superior","Envolvente Inferior","Envolvente Promedio"], "range": [1.4,1.6,1.6,2.6]},
                      "legend": {"orient": "none", "legendX": -36, "legendY": 592, "direction": "horizontal", "labelFont": {"expr": "'Liberation Serif'"}, "labelFontSize": 23}}
          }
        },
        {
          "mark": {"type": "point", "opacity": 0},
          "encoding": {
            "x": {"field": "f", "type": "quantitative", "scale": {"type": "log", "domain": [0.1, 5], "nice": false},
                  "axis": {"orient": "top", "title": null, "labels": false, "grid": false, "values": [0.1,0.2,0.3,0.4,0.5,0.6,0.7,0.8,0.9,1,5]}},
            "y": {"field": "a", "type": "quantitative", "scale": {"domain": [0, 80], "nice": false},
                  "axis": {"orient": "right", "title": null, "labels": false, "grid": false, "values": [0,10,20,30,40,50,60,70,80]}}
          }
        }
      ],
      "resolve": {"axis": {"x": "independent", "y": "independent"}}
    },
    {
      "width": 293, "height": 497,
      "title": {"text": "Media Cuadrática"},
      "data": {"name": "mc"},
      "transform": [{"lookup": "s", "from": {"data": {"name": "series"}, "key": "s", "fields": ["name"]}}],
      "layer": [
        {
          "mark": {"type": "line", "clip": true},
          "encoding": {
            "x": {"field": "f", "type": "quantitative", "scale": {"type": "log", "domain": [0.1, 5], "nice": false},
                  "axis": {"title": "Frecuencia [Hz]", "values": [0.1,0.2,0.3,0.4,0.5,0.6,0.7,0.8,0.9,1,5], "labelExpr": "datum.value == 0.1 ? '0.1' : (datum.value == 1 ? '1' : (datum.value == 5 ? '5' : ''))"}},
            "y": {"field": "a", "type": "quantitative", "scale": {"domain": [0, 20], "nice": false},
                  "axis": {"title": "Amplitud", "values": [0,0.5,1,1.5,2,2.5,3,3.5,4,4.5,5,5.5,6,6.5,7,7.5,8,8.5,9,9.5,10,10.5,11,11.5,12,12.5,13,13.5,14,14.5,15,15.5,16,16.5,17,17.5,18,18.5,19,19.5,20], "labelExpr": "datum.value % 2 == 0 ? format(datum.value, 'd') : ''", "tickOpacity": {"condition": {"test": "datum.value % 2 == 0", "value": 1}, "value": 0}}},
            "color": {"field": "name", "type": "nominal", "title": null, "scale": {"domain": ["Función de Transferencia","Envolvente Superior","Envolvente Inferior","Envolvente Promedio"], "range": ["#a6a6a6","#6e6e6e","#6e6e6e","#000000"]},
                      "legend": {"orient": "none", "legendX": -36, "legendY": 592, "direction": "horizontal", "labelFont": {"expr": "'Liberation Serif'"}, "labelFontSize": 23}},
            "strokeDash": {"field": "name", "type": "nominal", "title": null, "scale": {"domain": ["Función de Transferencia","Envolvente Superior","Envolvente Inferior","Envolvente Promedio"], "range": [[1,0],[9,6],[9,6],[1,0]]},
                      "legend": {"orient": "none", "legendX": -36, "legendY": 592, "direction": "horizontal", "labelFont": {"expr": "'Liberation Serif'"}, "labelFontSize": 23}},
            "strokeWidth": {"field": "name", "type": "nominal", "title": null, "scale": {"domain": ["Función de Transferencia","Envolvente Superior","Envolvente Inferior","Envolvente Promedio"], "range": [1.4,1.6,1.6,2.6]},
                      "legend": {"orient": "none", "legendX": -36, "legendY": 592, "direction": "horizontal", "labelFont": {"expr": "'Liberation Serif'"}, "labelFontSize": 23}}
          }
        },
        {
          "mark": {"type": "point", "opacity": 0},
          "encoding": {
            "x": {"field": "f", "type": "quantitative", "scale": {"type": "log", "domain": [0.1, 5], "nice": false},
                  "axis": {"orient": "top", "title": null, "labels": false, "grid": false, "values": [0.1,0.2,0.3,0.4,0.5,0.6,0.7,0.8,0.9,1,5]}},
            "y": {"field": "a", "type": "quantitative", "scale": {"domain": [0, 20], "nice": false},
                  "axis": {"orient": "right", "title": null, "labels": false, "grid": false, "values": [0,2,4,6,8,10,12,14,16,18,20]}}
          }
        }
      ],
      "resolve": {"axis": {"x": "independent", "y": "independent"}}
    }
  ],
  "resolve": {
    "scale": {"x": "independent", "y": "independent", "color": "shared", "strokeDash": "shared", "strokeWidth": "shared"},
    "legend": {"color": "shared", "strokeDash": "shared", "strokeWidth": "shared"}
  },
  "config": {
    "font": "Liberation Serif",
    "background": "white",
    "view": {"stroke": "#262626", "strokeWidth": 1.6},
    "style": {"guide-label": {"font": "Liberation Serif"}, "guide-title": {"font": "Liberation Serif"}},
    "title": {"font": "Liberation Serif", "fontSize": 22, "fontWeight": "bold", "color": "#000000", "offset": -5},
    "axis": {
      "labelFont": "Liberation Serif", "titleFont": "Liberation Serif",
      "labelFontSize": 20, "titleFontSize": 21, "titleFontWeight": "normal",
      "labelColor": "#262626", "titleColor": "#262626",
      "domain": false, "tickColor": "#262626", "tickWidth": 1.3, "tickSize": -5,
      "labelPadding": 12, "labelOverlap": false, "labelFlush": false,
      "grid": true, "gridColor": "#c4c4c4", "gridDash": [1, 3], "gridWidth": 1
    },
    "axisX": {"titlePadding": 10, "labelPadding": 14},
    "axisY": {"titlePadding": 8},
    "legend": {
      "labelFont": "Liberation Serif", "labelFontSize": 23, "labelColor": "#000000", "labelLimit": 500,
      "symbolType": "stroke", "symbolSize": 3249, "labelOffset": 3, "columnPadding": 10, "clipHeight": 26,
      "strokeColor": "#262626", "padding": 4
    }
  }
}
